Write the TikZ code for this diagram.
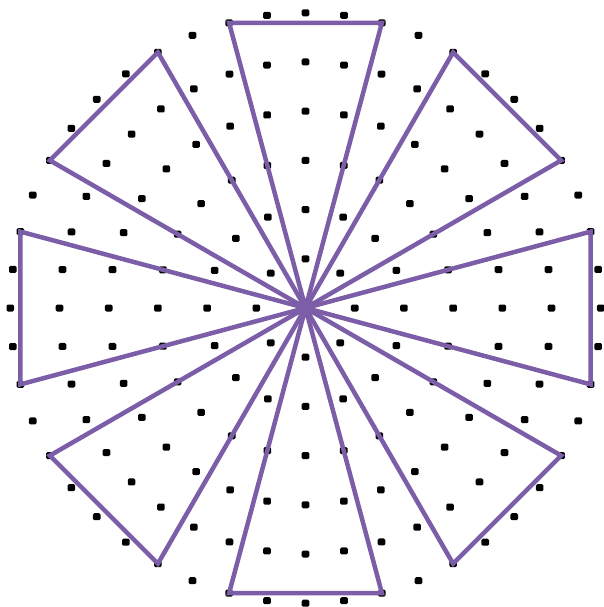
\documentclass[tikz,border=0pt]{standalone}
\usetikzlibrary{calc}
\definecolor{tricol}{RGB}{123,94,167}
\begin{document}
\begin{tikzpicture}[x=1pt,y=-1pt,
  dotmark/.style={fill=black, rounded corners=1.4pt},
  triline/.style={draw=tricol, line width=4.5pt, line join=miter}]
\useasboundingbox (0,0) rectangle (604,607);
\coordinate (C) at (305.5,308);
% dot rings
\begin{scope}[shift={(C)}]
\foreach \k in {1,...,6}{
  \pgfmathtruncatemacro\nmax{8*\k-1}
  \foreach \j in {0,...,\nmax}{
    \fill[dotmark] ({\j*45/\k}:{\k*49.2}) +(-3.8,-3.5) rectangle +(3.8,3.5);
  }
}
\end{scope}
% triangles
\foreach \m in {0,...,7}{
  \coordinate (va\m) at ($(C)+({\m*45-15}:295.2)$);
  \coordinate (vb\m) at ($(C)+({\m*45+15}:295.2)$);
  \draw[triline] (C) -- (va\m) -- (vb\m) -- cycle;
}
\end{tikzpicture}
\end{document}
